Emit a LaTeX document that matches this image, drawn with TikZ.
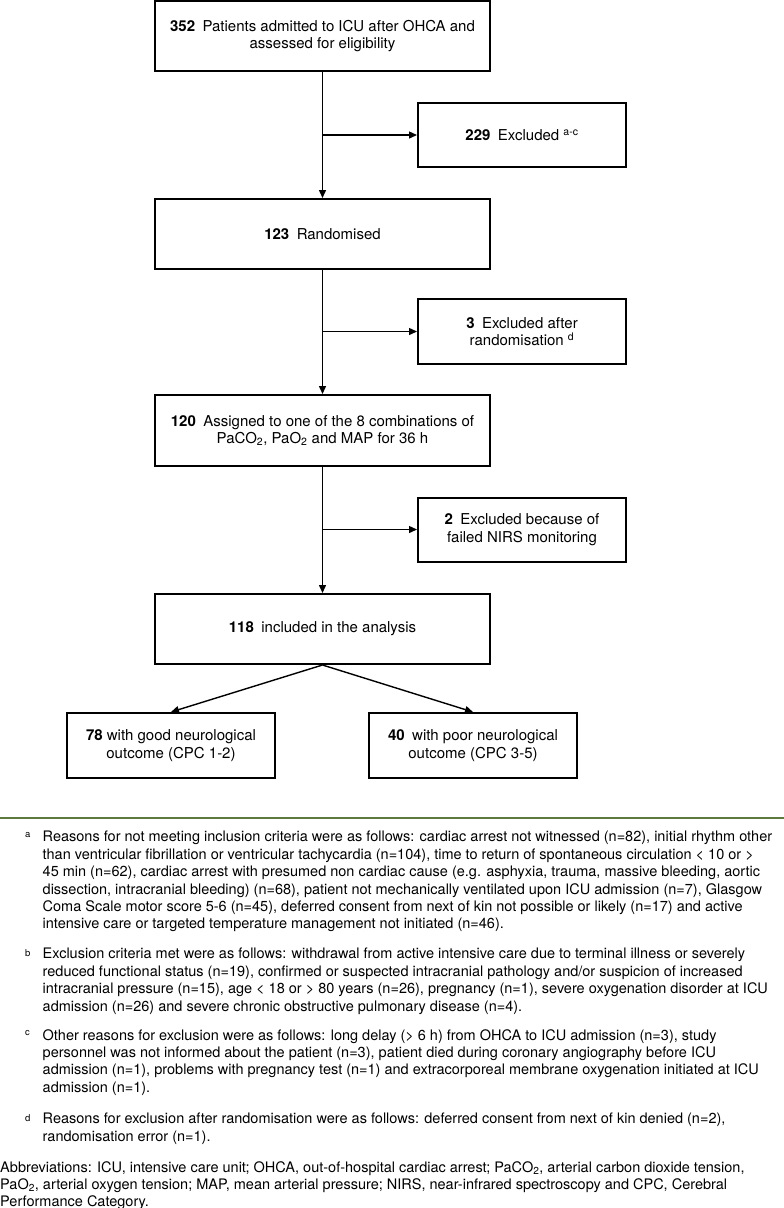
\documentclass[tikz,border=0pt]{standalone}
\usepackage{fontspec}
\setmainfont{TeX Gyre Heros}
\usetikzlibrary{arrows.meta}
\definecolor{sepgreen}{RGB}{92,122,62}
\begin{document}
\begin{tikzpicture}[x=1pt,y=-1pt,
  box/.style={draw,line width=2pt,minimum width=335pt,minimum height=70pt,align=center,
    font=\fontsize{15}{17.5}\selectfont,inner sep=0pt},
  sidebox/.style={box,minimum width=208pt,minimum height=64pt},
  arr/.style={line width=1.4pt,-{Triangle[length=8pt,width=7pt]}},
  fn/.style={font=\fontsize{14.5}{17.4}\selectfont,align=left,inner sep=0pt,anchor=north west},
  mk/.style={font=\fontsize{9.5}{9.5}\selectfont,inner sep=0pt,anchor=north west}
  ]
\useasboundingbox (0,0) rectangle (784,1208);
\node[box] (n352) at (322.5,36) {\textbf{352}\enspace Patients admitted to ICU after OHCA and\\assessed for eligibility};
\node[sidebox] (x229) at (522,135) {\textbf{229}\enspace Excluded \textsuperscript{a-c}};
\node[box] (n123) at (322.5,234) {\textbf{123}\enspace Randomised};
\node[sidebox,minimum height=65pt] (x3) at (522,331.5) {\textbf{3}\enspace Excluded after\\randomisation \textsuperscript{d}};
\node[box,minimum height=71pt] (n120) at (322.5,430.5) {\textbf{120}\enspace Assigned to one of the 8 combinations of\\PaCO\textsubscript{2}, PaO\textsubscript{2} and MAP for 36 h};
\node[sidebox] (x2) at (522,529.5) {\textbf{2}\enspace Excluded because of\\failed NIRS monitoring};
\node[box] (n118) at (322.5,629) {\textbf{118}\enspace included in the analysis};
\node[sidebox,minimum height=65pt] (good) at (171,745.5) {\textbf{78} with good neurological\\outcome (CPC 1-2)};
\node[sidebox,minimum height=65pt] (poor) at (473,745.5) {\textbf{40}\enspace with poor neurological\\outcome (CPC 3-5)};

\draw[arr] (n352.south) -- (n123.north);
\draw[arr] (n352.south |- x229.west) -- (x229.west);
\draw[arr] (n123.south) -- (n120.north);
\draw[arr] (n123.south |- x3.west) -- (x3.west);
\draw[arr] (n120.south) -- (n118.north);
\draw[arr] (n120.south |- x2.west) -- (x2.west);
\draw[arr] (n118.south) -- (good.north);
\draw[arr] (n118.south) -- (poor.north);

\draw[sepgreen,line width=1.5pt] (0,818) -- (784,818);

\node[mk] (ma) at (25,832) {a};
\node[fn] (fa) at (42.5,831) {Reasons for not meeting inclusion criteria were as follows: cardiac arrest not witnessed (n=82), initial rhythm other\\
than ventricular fibrillation or ventricular tachycardia (n=104), time to return of spontaneous circulation < 10 or >\\
45 min (n=62), cardiac arrest with presumed non cardiac cause (e.g. asphyxia, trauma, massive bleeding, aortic\\
dissection, intracranial bleeding) (n=68), patient not mechanically ventilated upon ICU admission (n=7), Glasgow\\
Coma Scale motor score 5-6 (n=45), deferred consent from next of kin not possible or likely (n=17) and active\\
intensive care or targeted temperature management not initiated (n=46).};
\node[mk] (mb) at (25,949) {b};
\node[fn] (fb) at (42.5,948) {Exclusion criteria met were as follows: withdrawal from active intensive care due to terminal illness or severely\\
reduced functional status (n=19), confirmed or suspected intracranial pathology and/or suspicion of increased\\
intracranial pressure (n=15), age < 18 or > 80 years (n=26), pregnancy (n=1), severe oxygenation disorder at ICU\\
admission (n=26) and severe chronic obstructive pulmonary disease (n=4).};
\node[mk] (mc) at (25,1030) {c};
\node[fn] (fc) at (42.5,1029) {Other reasons for exclusion were as follows: long delay (> 6 h) from OHCA to ICU admission (n=3), study\\
personnel was not informed about the patient (n=3), patient died during coronary angiography before ICU\\
admission (n=1), problems with pregnancy test (n=1) and extracorporeal membrane oxygenation initiated at ICU\\
admission (n=1).};
\node[mk] (md) at (25,1114) {d};
\node[fn] (fd) at (42.5,1113) {Reasons for exclusion after randomisation were as follows: deferred consent from next of kin denied (n=2),\\
randomisation error (n=1).};
\node[fn] (fab) at (0,1161) {Abbreviations: ICU, intensive care unit; OHCA, out-of-hospital cardiac arrest; PaCO\textsubscript{2}, arterial carbon dioxide tension,\\
PaO\textsubscript{2}, arterial oxygen tension; MAP, mean arterial pressure; NIRS, near-infrared spectroscopy and CPC, Cerebral\\
Performance Category.};
\end{tikzpicture}
\end{document}
